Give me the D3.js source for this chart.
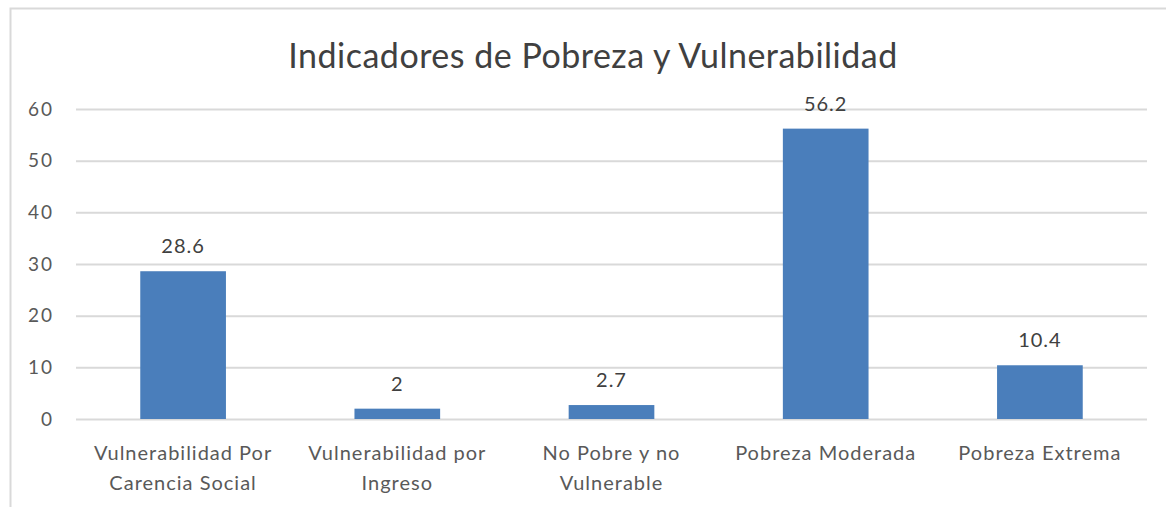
<!DOCTYPE html>
<html>
<head>
<meta charset="utf-8">
<script src="https://cdn.jsdelivr.net/npm/d3@7"></script>
<style>
  body { margin: 0; background: #fff; }
  text { font-family: Lato, "Open Sans", sans-serif; }
</style>
</head>
<body>
<div id="chart"></div>
<script>
// chart data
var categories = [
  ["Vulnerabilidad Por", "Carencia Social"],
  ["Vulnerabilidad por", "Ingreso"],
  ["No Pobre y no", "Vulnerable"],
  ["Pobreza Moderada"],
  ["Pobreza Extrema"]
];
var values = [28.6, 2, 2.7, 56.2, 10.4];
var valueLabels = ["28.6", "2", "2.7", "56.2", "10.4"];
var yTicks = [0, 10, 20, 30, 40, 50, 60];

var W = 1166, H = 507;
var margin = {top: 109, right: 19, bottom: 88, left: 76},
    width = W - margin.left - margin.right,
    height = H - margin.top - margin.bottom;

var svg = d3.select("#chart")
  .append("svg")
    .attr("width", W)
    .attr("height", H);

// chart area border (only top and left show)
svg.append("rect")
    .attr("x", 10.5)
    .attr("y", 8.5)
    .attr("width", W + 20)
    .attr("height", H + 20)
    .style("fill", "none")
    .style("stroke", "#d9d9d9")
    .style("stroke-width", 2);

svg.append("text")
    .attr("x", 593)
    .attr("y", 68)
    .attr("text-anchor", "middle")
    .style("font-size", "34px")
    .style("letter-spacing", "0.5px")
    .style("fill", "#404040")
    .text("Indicadores de Pobreza y Vulnerabilidad");

var g = svg.append("g")
    .attr("transform", "translate(" + margin.left + "," + margin.top + ")");

var idx = values.map(function(d, i) { return i; });

var x = d3.scaleBand()
    .domain(idx)
    .range([0, width])
    .paddingInner(0.6)
    .paddingOuter(0.3);

var y = d3.scaleLinear()
    .domain([0, 60])
    .range([height, 0]);

// gridlines + y labels
var yAxis = g.append("g")
    .call(d3.axisLeft(y).tickValues(yTicks).tickSize(-width).tickPadding(22));
yAxis.select(".domain").remove();
yAxis.selectAll(".tick line")
    .style("stroke", "#d9d9d9")
    .style("stroke-width", 2);
yAxis.selectAll(".tick text")
    .style("font-size", "19px")
    .style("letter-spacing", "2px")
    .style("fill", "#595959")
    .style("font-family", "Lato, sans-serif");

// bars
g.selectAll(".bar")
    .data(values)
    .enter().append("rect")
      .attr("class", "bar")
      .attr("x", function(d, i) { return x(i); })
      .attr("width", x.bandwidth())
      .attr("y", function(d) { return y(d); })
      .attr("height", function(d) { return height - y(d); })
      .style("fill", "#4a7ebb");

// data labels
g.selectAll(".val")
    .data(values)
    .enter().append("text")
      .attr("class", "val")
      .attr("x", function(d, i) { return x(i) + x.bandwidth() / 2; })
      .attr("y", function(d) { return y(d) - 18; })
      .attr("text-anchor", "middle")
      .style("font-size", "20px")
      .style("letter-spacing", "1px")
      .style("fill", "#404040")
      .text(function(d, i) { return valueLabels[i]; });

// category labels
var cat = g.selectAll(".cat")
    .data(categories)
    .enter().append("text")
      .attr("class", "cat")
      .attr("x", function(d, i) { return x(i) + x.bandwidth() / 2; })
      .attr("y", height + 41)
      .attr("text-anchor", "middle")
      .style("font-size", "20px")
      .style("letter-spacing", "1px")
      .style("fill", "#595959");
cat.selectAll("tspan")
    .data(function(d) { return d; })
    .enter().append("tspan")
      .attr("x", function() { return d3.select(this.parentNode).attr("x"); })
      .attr("dy", function(d, j) { return j === 0 ? 0 : 30; })
      .text(function(d) { return d; });
</script>
</body>
</html>
